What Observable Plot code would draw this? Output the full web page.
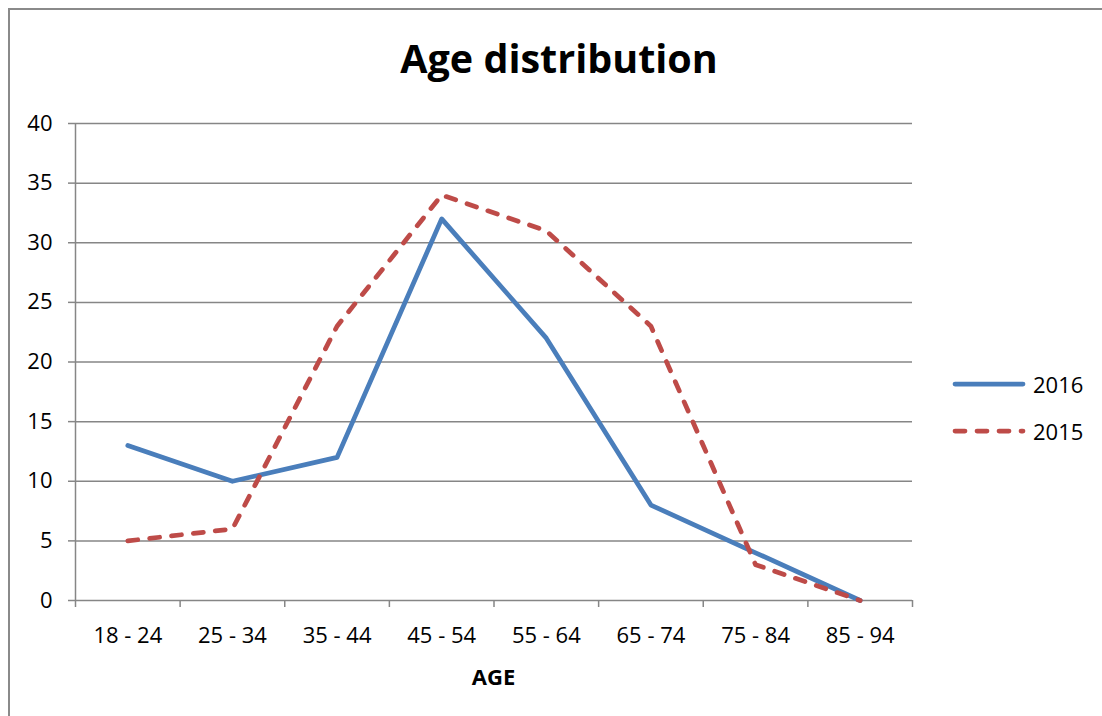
<!DOCTYPE html>
<html>
<head>
<meta charset="utf-8">
<script src="https://cdn.jsdelivr.net/npm/d3@7"></script>
<script src="https://cdn.jsdelivr.net/npm/@observablehq/plot@0.6"></script>
<style>
  html, body { margin: 0; padding: 0; background: #fff; }
  #wrap { position: relative; width: 1102px; height: 716px; overflow: hidden; font-family: "Open Sans", sans-serif; }
  #frame { position: absolute; left: 8px; top: 8px; width: 1200px; height: 800px; border: 2px solid #8a8a8a; box-sizing: border-box; }
  #chart { position: absolute; left: 0; top: 0; }
  #title { position: absolute; left: 0; width: 1118px; top: 31px; text-align: center; font-weight: bold; font-size: 39.5px; line-height: 54px; color: #000; }
  #xlabel { position: absolute; left: 75px; width: 837px; top: 661px; text-align: center; font-weight: bold; font-size: 22px; line-height: 30px; color: #000; }
  .leg { position: absolute; left: 950px; font-size: 22px; line-height: 28px; color: #000; display: flex; align-items: center; }
  .leg svg { display: block; margin-right: 5px; }
</style>
</head>
<body>
<div id="wrap">
  <div id="frame"></div>
  <div id="chart"></div>
  <div id="title">Age distribution</div>
  <div id="xlabel">AGE</div>
  <div id="legend"></div>
</div>
<script>
const categories = ["18 - 24", "25 - 34", "35 - 44", "45 - 54", "55 - 64", "65 - 74", "75 - 84", "85 - 94"];
const values2016 = [13, 10, 12, 32, 22, 8, 4, 0];
const values2015 = [5, 6, 23, 34, 31, 23, 3, 0];
const yTicks = [0, 5, 10, 15, 20, 25, 30, 35, 40];
const seriesNames = ["2016", "2015"];
const seriesColors = ["#4a7ebb", "#be4b48"];

const n = categories.length;
const rows2016 = categories.map((c, i) => ({i, c, v: values2016[i]}));
const rows2015 = categories.map((c, i) => ({i, c, v: values2015[i]}));
const centers = d3.range(n).map(i => i + 0.5);
const boundaries = d3.range(n + 1);
const gray = "#868686";

const chart = Plot.plot({
  width: 1102,
  height: 716,
  marginLeft: 75,
  marginRight: 190,
  marginTop: 123,
  marginBottom: 116,
  style: {fontFamily: "'Open Sans', sans-serif", fontSize: "22px", color: "#000", background: "transparent"},
  x: {type: "linear", domain: [0, n]},
  y: {domain: [0, 40]},
  marks: [
    Plot.gridY(yTicks, {stroke: gray, strokeOpacity: 1, strokeWidth: 1.5}),
    Plot.axisY(yTicks, {tickSize: 7, tickPadding: 16, stroke: gray, strokeWidth: 1.5, fontSize: 22, label: null, fill: "#000"}),
    Plot.ruleX([0], {stroke: gray, strokeWidth: 1.5}),
    Plot.axisX(boundaries, {tickSize: 7, tickFormat: () => "", stroke: gray, strokeWidth: 1.5, label: null}),
    Plot.axisX(centers, {tickSize: 0, tickPadding: 27, tickFormat: d => categories[Math.floor(d)], fontSize: 22, label: null, fill: "#000"}),
    Plot.line(rows2016, {x: d => d.i + 0.5, y: "v", stroke: seriesColors[0], strokeWidth: 4.75, strokeLinejoin: "round"}),
    Plot.line(rows2015, {x: d => d.i + 0.5, y: "v", stroke: seriesColors[1], strokeWidth: 4.75, strokeDasharray: "10,12", strokeLinecap: "round", strokeLinejoin: "round"})
  ]
});
document.getElementById("chart").appendChild(chart);

const legend = document.getElementById("legend");
const legTops = [370, 417];
seriesNames.forEach((name, k) => {
  const item = document.createElement("div");
  item.className = "leg";
  item.style.top = legTops[k] + "px";
  const dash = k === 1 ? ' stroke-dasharray="10,12"' : '';
  item.innerHTML = `<svg width="78" height="10"><line x1="5" y1="5" x2="73" y2="5" stroke="${seriesColors[k]}" stroke-width="4.75" stroke-linecap="round"${dash}/></svg><span>${name}</span>`;
  legend.appendChild(item);
});
</script>
</body>
</html>
